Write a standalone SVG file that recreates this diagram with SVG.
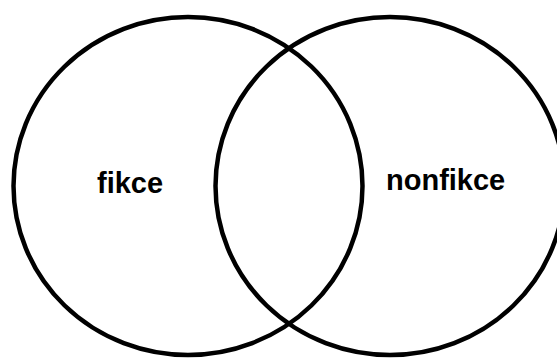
<svg xmlns="http://www.w3.org/2000/svg" width="557" height="358" viewBox="0 0 557 358">
<style>
.set{fill:none;stroke:#000;stroke-width:4.5}
.lbl{font-family:"Liberation Sans",Arial,sans-serif;font-weight:bold;font-size:29px;fill:#000}
</style>
<rect width="557" height="358" fill="#fff"/>
<g id="fikce">
<ellipse class="set" cx="188" cy="186" rx="174.5" ry="169"/>
<text class="lbl" x="97" y="193">fikce</text>
</g>
<g id="nonfikce">
<ellipse class="set" cx="390" cy="186" rx="174.5" ry="169"/>
<text class="lbl" x="386" y="189.5">nonfikce</text>
</g>
<g id="connectors"></g>
</svg>
